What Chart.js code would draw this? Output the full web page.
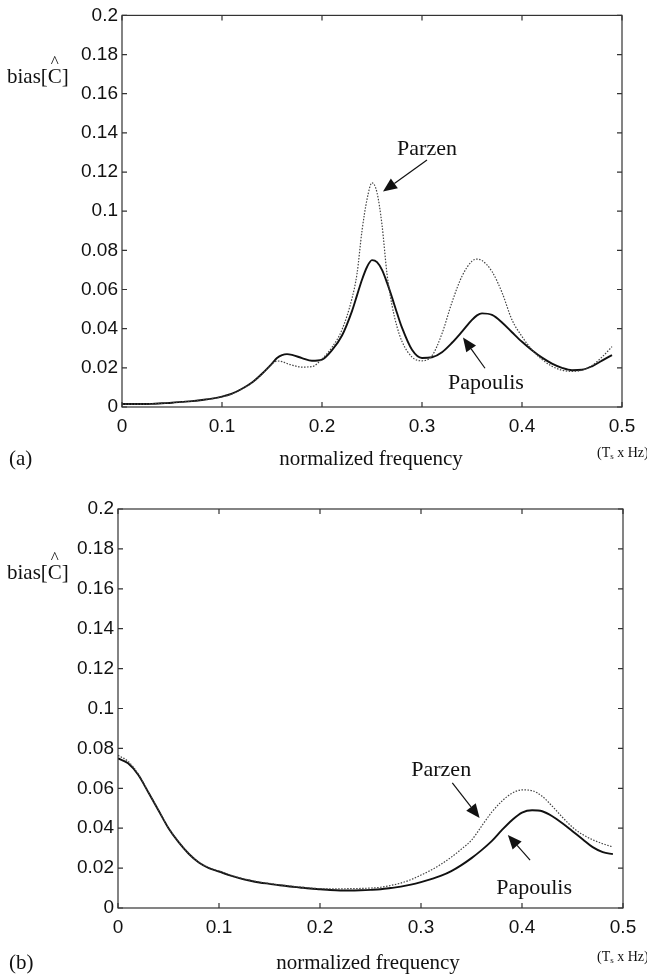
<!DOCTYPE html>
<html>
<head>
<meta charset="utf-8">
<script src="https://cdn.jsdelivr.net/npm/chart.js@4.4.1/dist/chart.umd.min.js"></script>
<style>
  html, body { margin: 0; padding: 0; background: #fff; }
  #page { position: relative; width: 647px; height: 976px; overflow: hidden; }
  .panel { position: absolute; left: 0; width: 647px; height: 488px; }
  .txt { position: absolute; font-family: "Liberation Serif", "Times New Roman", serif; color: #111; white-space: nowrap; line-height: 1; }
  .ylab { font-size: 21px; }
  .hatc { position: relative; }
  .hat { position: absolute; left: 3px; top: -11px; font-size: 17px; }
  .xlab { font-size: 21px; transform: translate(-50%, -50%); }
  .tag { font-size: 21px; transform: translateY(-50%); }
  .unit { font-size: 14px; transform: translateY(-50%); }
  .unit sub { font-size: 9px; vertical-align: -2px; }
</style>
</head>
<body>
<div id="page">
  <div class="panel" style="top:0"><canvas id="chartA" width="647" height="488"></canvas></div>
  <div class="panel" style="top:488px"><canvas id="chartB" width="647" height="488"></canvas></div>

  <div class="txt ylab" style="left:7px; top:66px">bias[<span class="hatc">C<span class="hat">^</span></span>]</div>
  <div class="txt tag" style="left:9px; top:458px">(a)</div>
  <div class="txt xlab" style="left:371px; top:458px">normalized frequency</div>
  <div class="txt unit" style="left:597px; top:453px">(T<sub>s</sub> x Hz)</div>

  <div class="txt ylab" style="left:7px; top:562px">bias[<span class="hatc">C<span class="hat">^</span></span>]</div>
  <div class="txt tag" style="left:9px; top:962px">(b)</div>
  <div class="txt xlab" style="left:368px; top:962px">normalized frequency</div>
  <div class="txt unit" style="left:597px; top:957px">(T<sub>s</sub> x Hz)</div>
</div>

<script>
/* ---------- data ---------- */
const xTicks = [0, 0.1, 0.2, 0.3, 0.4, 0.5];
const xTickLabels = ["0", "0.1", "0.2", "0.3", "0.4", "0.5"];
const yTicks = [0, 0.02, 0.04, 0.06, 0.08, 0.1, 0.12, 0.14, 0.16, 0.18, 0.2];
const yTickLabels = ["0", "0.02", "0.04", "0.06", "0.08", "0.1", "0.12", "0.14", "0.16", "0.18", "0.2"];

// panel (a)
const freqA = [0, 0.01, 0.02, 0.03, 0.04, 0.05, 0.06, 0.07, 0.08, 0.09, 0.10, 0.11, 0.12, 0.13, 0.14, 0.15,
  0.155, 0.16, 0.165, 0.17, 0.18, 0.19, 0.20, 0.21, 0.22, 0.23,
  0.235, 0.24, 0.245, 0.25, 0.255, 0.26, 0.265, 0.27, 0.275, 0.28,
  0.29, 0.30, 0.31, 0.32, 0.33, 0.34, 0.35,
  0.355, 0.36, 0.37, 0.38, 0.39, 0.40, 0.41, 0.42, 0.43, 0.44, 0.45, 0.46, 0.47, 0.48, 0.49];
const papoulisA = [0.0015, 0.0015, 0.0015, 0.0016, 0.0019, 0.0022, 0.0026, 0.0030, 0.0036, 0.0043, 0.0053, 0.0068, 0.0093, 0.0125, 0.0170, 0.0222,
  0.0250, 0.0265, 0.0270, 0.0266, 0.0250, 0.0236, 0.0242, 0.0290, 0.0365, 0.0490,
  0.0570, 0.0650, 0.0715, 0.0750, 0.0740, 0.0700, 0.0635, 0.0560, 0.0480, 0.0405,
  0.0292, 0.0250, 0.0254, 0.0280, 0.0328, 0.0385, 0.0445,
  0.0468, 0.0478, 0.0470, 0.0432, 0.0382, 0.0333, 0.0290, 0.0252, 0.0222, 0.0200, 0.0188, 0.0190, 0.0208, 0.0237, 0.0265];
const parzenA = [0.0015, 0.0015, 0.0015, 0.0016, 0.0019, 0.0022, 0.0026, 0.0030, 0.0036, 0.0043, 0.0052, 0.0067, 0.0092, 0.0124, 0.0168, 0.0220,
  0.0235, 0.0232, 0.0222, 0.0214, 0.0204, 0.0206, 0.0245, 0.0305, 0.0395, 0.0555,
  0.0680, 0.0900, 0.1060, 0.1145, 0.1095, 0.0930, 0.0680, 0.0520, 0.0410, 0.0335,
  0.0255, 0.0236, 0.0262, 0.0375, 0.0535, 0.0668, 0.0745,
  0.0755, 0.0748, 0.0692, 0.0585, 0.0445, 0.0360, 0.0292, 0.0243, 0.0208, 0.0188, 0.0182, 0.0188, 0.0212, 0.0255, 0.0308];

// panel (b)
const freqB = [0, 0.01, 0.02, 0.03, 0.04, 0.05, 0.06, 0.07, 0.08, 0.09,
  0.10, 0.11, 0.12, 0.13, 0.14, 0.15, 0.16, 0.17, 0.18, 0.19,
  0.20, 0.21, 0.22, 0.23, 0.24, 0.25, 0.26, 0.27, 0.28, 0.29,
  0.30, 0.31, 0.32, 0.33, 0.34, 0.35, 0.36, 0.37, 0.38, 0.39,
  0.40, 0.41, 0.42, 0.43, 0.44, 0.45, 0.46, 0.47, 0.48, 0.49];
const papoulisB = [0.0750, 0.0725, 0.0668, 0.0580, 0.0490, 0.0400, 0.0330, 0.0272, 0.0228, 0.0200,
  0.0183, 0.0165, 0.0150, 0.0138, 0.0128, 0.0121, 0.0114, 0.0108, 0.0103, 0.0098,
  0.0094, 0.0090, 0.0088, 0.0088, 0.0089, 0.0091, 0.0094, 0.0100, 0.0107, 0.0117,
  0.0130, 0.0145, 0.0162, 0.0185, 0.0215, 0.0250, 0.0290, 0.0335, 0.0390, 0.0440,
  0.0478, 0.0490, 0.0485, 0.0460, 0.0425, 0.0385, 0.0345, 0.0305, 0.0280, 0.0270];
const parzenB = [0.0765, 0.0735, 0.0672, 0.0582, 0.0492, 0.0402, 0.0332, 0.0274, 0.0230, 0.0202,
  0.0185, 0.0167, 0.0152, 0.0140, 0.0130, 0.0123, 0.0116, 0.0110, 0.0105, 0.0100,
  0.0097, 0.0096, 0.0096, 0.0097, 0.0098, 0.0100, 0.0104, 0.0113, 0.0125, 0.0142,
  0.0165, 0.0190, 0.0220, 0.0255, 0.0295, 0.0340, 0.0410, 0.0480, 0.0535, 0.0575,
  0.0592, 0.0588, 0.0560, 0.0510, 0.0455, 0.0405, 0.0368, 0.0342, 0.0322, 0.0306];

// annotations in data units: label centre, arrow tail, arrow tip
const notesA = [
  { text: "Parzen",   tx: 0.305, ty: 0.1315, ax: 0.305, ay: 0.1262, bx: 0.261, by: 0.1100 },
  { text: "Papoulis", tx: 0.364, ty: 0.0120, ax: 0.363, ay: 0.0198, bx: 0.341, by: 0.0355 }
];
const notesB = [
  { text: "Parzen",   tx: 0.320, ty: 0.0692, ax: 0.331, ay: 0.0627, bx: 0.358, by: 0.0451 },
  { text: "Papoulis", tx: 0.412, ty: 0.0100, ax: 0.408, ay: 0.0240, bx: 0.386, by: 0.0366 }
];

/* ---------- frame, inward ticks and arrow notes ---------- */
const framePlugin = {
  id: "frame",
  afterDraw(chart, args, opts) {
    const { ctx, chartArea: a, scales: { x, y } } = chart;
    ctx.save();
    ctx.strokeStyle = "#333";
    ctx.lineWidth = 1.2;
    ctx.strokeRect(a.left, a.top, a.right - a.left, a.bottom - a.top);
    ctx.beginPath();
    xTicks.forEach(v => {
      const px = x.getPixelForValue(v);
      ctx.moveTo(px, a.bottom); ctx.lineTo(px, a.bottom - 5);
      ctx.moveTo(px, a.top); ctx.lineTo(px, a.top + 5);
    });
    yTicks.forEach(v => {
      const py = y.getPixelForValue(v);
      ctx.moveTo(a.left, py); ctx.lineTo(a.left + 5, py);
      ctx.moveTo(a.right, py); ctx.lineTo(a.right - 5, py);
    });
    ctx.stroke();

    ctx.fillStyle = "#111";
    ctx.strokeStyle = "#111";
    ctx.font = '22px "Liberation Serif", "Times New Roman", serif';
    ctx.textAlign = "center";
    ctx.textBaseline = "middle";
    (opts.notes || []).forEach(n => {
      ctx.fillText(n.text, x.getPixelForValue(n.tx), y.getPixelForValue(n.ty));
      const x0 = x.getPixelForValue(n.ax), y0 = y.getPixelForValue(n.ay);
      const x1 = x.getPixelForValue(n.bx), y1 = y.getPixelForValue(n.by);
      const ang = Math.atan2(y1 - y0, x1 - x0);
      const len = 14, half = 6;
      ctx.lineWidth = 1.2;
      ctx.beginPath();
      ctx.moveTo(x0, y0);
      ctx.lineTo(x1 - Math.cos(ang) * len, y1 - Math.sin(ang) * len);
      ctx.stroke();
      ctx.beginPath();
      ctx.moveTo(x1, y1);
      ctx.lineTo(x1 - Math.cos(ang) * len - Math.sin(ang) * half, y1 - Math.sin(ang) * len + Math.cos(ang) * half);
      ctx.lineTo(x1 - Math.cos(ang) * len + Math.sin(ang) * half, y1 - Math.sin(ang) * len - Math.cos(ang) * half);
      ctx.closePath();
      ctx.fill();
    });
    ctx.restore();
  }
};

function makeChart(id, freq, pap, par, notes, geo) {
  const pts = arr => freq.map((f, i) => ({ x: f, y: arr[i] }));
  return new Chart(document.getElementById(id), {
    type: "line",
    data: {
      datasets: [
        { label: "Parzen", data: pts(par), borderColor: "#444", borderWidth: 1.2,
          borderDash: [1.5, 1.5], pointRadius: 0, cubicInterpolationMode: "monotone" },
        { label: "Papoulis", data: pts(pap), borderColor: "#111", borderWidth: 1.9,
          pointRadius: 0, cubicInterpolationMode: "monotone" }
      ]
    },
    options: {
      responsive: false,
      animation: false,
      events: [],
      layout: { padding: { top: geo.top, right: geo.right, left: 0, bottom: 0 } },
      plugins: { legend: { display: false }, tooltip: { enabled: false }, frame: { notes } },
      scales: {
        x: {
          type: "linear", min: 0, max: 0.5,
          grid: { display: false, drawTicks: false }, border: { display: false },
          afterBuildTicks: s => { s.ticks = xTicks.map(v => ({ value: v })); },
          afterFit: s => { s.height = geo.xh; },
          ticks: {
            padding: 8, color: "#111", maxRotation: 0,
            font: { family: '"Liberation Sans", Arial, sans-serif', size: 19 },
            callback: (v, i) => xTickLabels[i]
          }
        },
        y: {
          type: "linear", min: 0, max: 0.2,
          grid: { display: false, drawTicks: false }, border: { display: false },
          afterBuildTicks: s => { s.ticks = yTicks.map(v => ({ value: v })); },
          afterFit: s => { s.width = geo.yw; },
          ticks: {
            padding: 4, color: "#111",
            font: { family: '"Liberation Sans", Arial, sans-serif', size: 19 },
            callback: (v, i) => yTickLabels[i]
          }
        }
      }
    },
    plugins: [framePlugin]
  });
}

makeChart("chartA", freqA, papoulisA, parzenA, notesA, { top: 13, right: 25, xh: 81, yw: 122 });
makeChart("chartB", freqB, papoulisB, parzenB, notesB, { top: 21, right: 24, xh: 68, yw: 118 });
</script>
</body>
</html>
